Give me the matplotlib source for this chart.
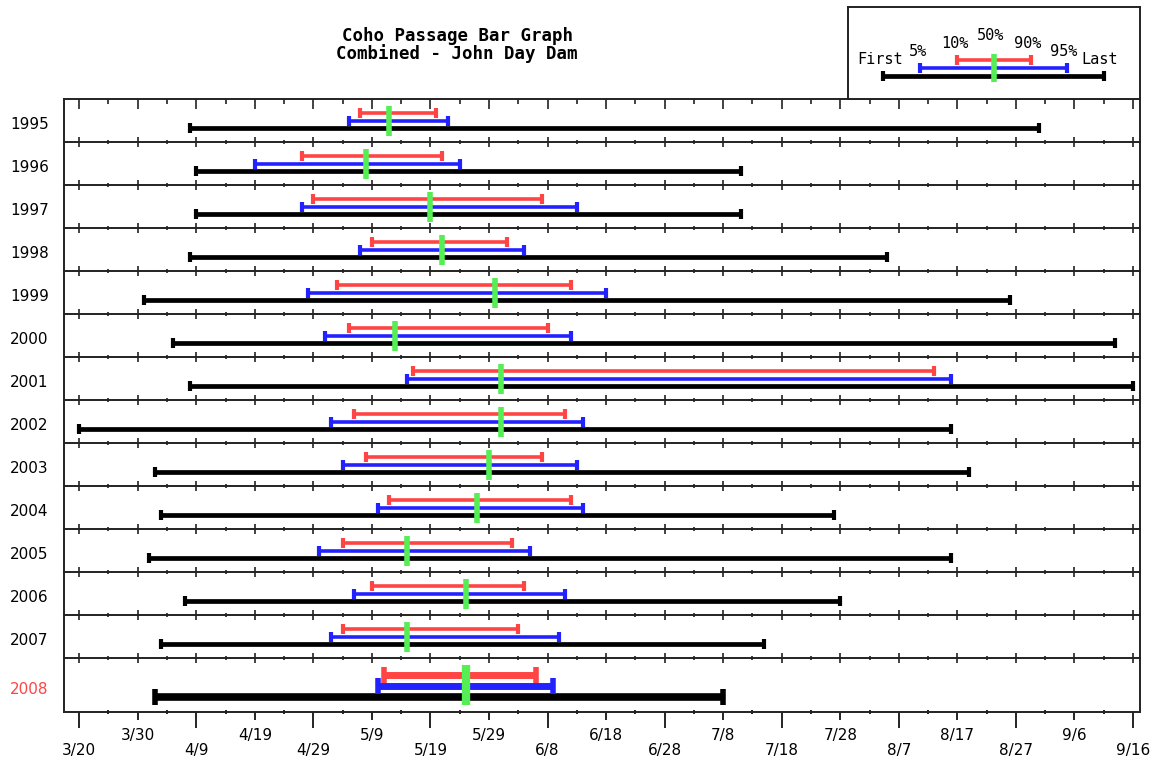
"""
Coho passage bar graph, John Day Dam (combined), 1995-2008
Run: python plot.py  -> out.png
"""
import datetime as dt
import matplotlib
matplotlib.use('Agg')
import matplotlib.pyplot as plt

# ------------------------------------------------------------
# Data: days after 3/20 for each passage milestone
# ------------------------------------------------------------
years = [1995, 1996, 1997, 1998, 1999, 2000, 2001,
         2002, 2003, 2004, 2005, 2006, 2007, 2008]
first = [19, 20, 20, 19, 11, 16, 19, 0, 13, 14, 12, 18, 14, 13]
p5    = [46, 30, 38, 48, 39, 42, 56, 43, 45, 51, 41, 47, 43, 51]
p10   = [48, 38, 40, 50, 44, 46, 57, 47, 49, 53, 45, 50, 45, 52]
p50   = [53, 49, 60, 62, 71, 54, 72, 72, 70, 68, 56, 66, 56, 66]
p90   = [61, 62, 79, 73, 84, 80, 146, 83, 79, 84, 74, 76, 75, 78]
p95   = [63, 65, 85, 76, 90, 84, 149, 86, 85, 86, 77, 83, 82, 81]
last  = [164, 113, 113, 138, 159, 177, 180, 149, 152, 129, 149, 130, 117, 110]

START = dt.date(2000, 3, 20)
major_days = list(range(0, 181, 10))
minor_days = list(range(5, 181, 10))
tick_labels = [f"{(START + dt.timedelta(days=d)).month}/{(START + dt.timedelta(days=d)).day}"
               for d in major_days]

RED, BLUE, GREEN, BLACK = '#ff4444', '#2222ff', '#55ee55', 'black'

# ------------------------------------------------------------
# Layout (pixel based, 1156 x 765)
# ------------------------------------------------------------
W, H = 1156, 765
fig = plt.figure(figsize=(W / 100, H / 100), dpi=100)
gs = fig.add_gridspec(len(years), 1, left=64 / W, right=1140 / W,
                      top=1 - 99 / H, bottom=1 - 712 / H,
                      height_ratios=[43] * (len(years) - 1) + [54], hspace=0)

for i, yr in enumerate(years):
    ax = fig.add_subplot(gs[i])
    is_last = (i == len(years) - 1)
    h = 54 if is_last else 43
    ax.set_xlim(-2.6, 181.2)
    ax.set_ylim(h, 0)

    if is_last:
        y_red, y_blue, y_blk, g0, g1 = 17, 28, 39, 7, 47
        lw_c, lw_k, lw_g, cap, mew = 5.0, 5.5, 6.0, 9, 4.0
    else:
        y_red, y_blue, y_blk, g0, g1 = 14, 22, 29, 7, 37
        lw_c, lw_k, lw_g, cap, mew = 2.6, 3.4, 4.0, 7, 3.0

    for a, b, y, c, lw in [(first[i], last[i], y_blk, BLACK, lw_k),
                           (p5[i], p95[i], y_blue, BLUE, lw_c),
                           (p10[i], p90[i], y_red, RED, lw_c)]:
        ax.plot([a, b], [y, y], color=c, lw=lw, solid_capstyle='butt')
        ax.plot([a, b], [y, y], ls='none', marker='|', ms=max(cap, lw * 2.2),
                mew=mew, color=c)
    ax.plot([p50[i], p50[i]], [g0, g1], color=GREEN, lw=lw_g, solid_capstyle='butt')

    for s in ax.spines.values():
        s.set_linewidth(1.4)
        s.set_color('#222222')
    ax.spines['bottom'].set_visible(is_last)

    # separator ticks on top of every row
    ax.xaxis.set_ticks_position('top')
    ax.set_xticks(major_days)
    ax.set_xticks(minor_days, minor=True)
    ax.tick_params(axis='x', which='both', labeltop=False, labelbottom=False,
                   direction='in' if i == 0 else 'inout', width=1.2, color='#222222')
    ax.tick_params(axis='x', which='major', length=7)
    ax.tick_params(axis='x', which='minor', length=3.5)

    ax.set_yticks([y_blue + 2])
    ax.set_yticklabels([str(yr)])
    ax.tick_params(axis='y', length=0, pad=11, labelsize=11,
                   labelcolor=RED if is_last else 'black')

    if is_last:
        # bottom axis: short ticks with upper row of labels, long ticks with lower row
        sec_minor = ax.secondary_xaxis('bottom')
        sec_minor.set_xticks(minor_days)
        sec_minor.set_xticklabels([])
        sec_minor.tick_params(length=2.5, width=1.2, direction='inout')
        sec_minor.spines['bottom'].set_visible(False)

        sec_odd = ax.secondary_xaxis('bottom')
        sec_odd.set_xticks(major_days[1::2])
        sec_odd.set_xticklabels(tick_labels[1::2])
        sec_odd.tick_params(length=5.5, width=1.2, pad=6, labelsize=11)
        sec_odd.spines['bottom'].set_visible(False)

        sec_even = ax.secondary_xaxis('bottom')
        sec_even.set_xticks(major_days[0::2])
        sec_even.set_xticklabels(tick_labels[0::2])
        sec_even.tick_params(length=11.5, width=1.2, pad=11, labelsize=11)
        sec_even.spines['bottom'].set_visible(False)

# ------------------------------------------------------------
# Title
# ------------------------------------------------------------
fig.text(457 / W, 1 - 36 / H, "Coho Passage Bar Graph", ha='center', va='center',
         family='DejaVu Sans Mono', fontweight='bold', fontsize=12.5)
fig.text(457 / W, 1 - 54 / H, "Combined - John Day Dam", ha='center', va='center',
         family='DejaVu Sans Mono', fontweight='bold', fontsize=12.5)

# ------------------------------------------------------------
# Key box (pixel coordinates inside the box)
# ------------------------------------------------------------
lg = fig.add_axes([848 / W, 1 - 99 / H, (1140 - 848) / W, (99 - 7) / H])
lg.set_xlim(848, 1140)
lg.set_ylim(99, 7)
lg.set_xticks([])
lg.set_yticks([])
for s in lg.spines.values():
    s.set_linewidth(1.4)
    s.set_color('#222222')

for a, b, y, c, lw in [(883, 1104, 75.5, BLACK, 3.4), (920, 1067, 68, BLUE, 2.6),
                       (957, 1031, 60, RED, 2.6)]:
    lg.plot([a, b], [y, y], color=c, lw=lw, solid_capstyle='butt')
    lg.plot([a, b], [y, y], ls='none', marker='|', ms=7, mew=3.0, color=c)
lg.plot([994, 994], [54, 82], color=GREEN, lw=4.0, solid_capstyle='butt')

key_text = [("First", 880, 60), ("5%", 918, 52), ("10%", 955, 44), ("50%", 991, 35),
            ("90%", 1028, 44), ("95%", 1064, 52), ("Last", 1100, 60)]
for t, x, y in key_text:
    lg.text(x, y, t, ha='center', va='center', family='DejaVu Sans Mono', fontsize=11)

plt.savefig("out.png", dpi=100)
plt.close()
